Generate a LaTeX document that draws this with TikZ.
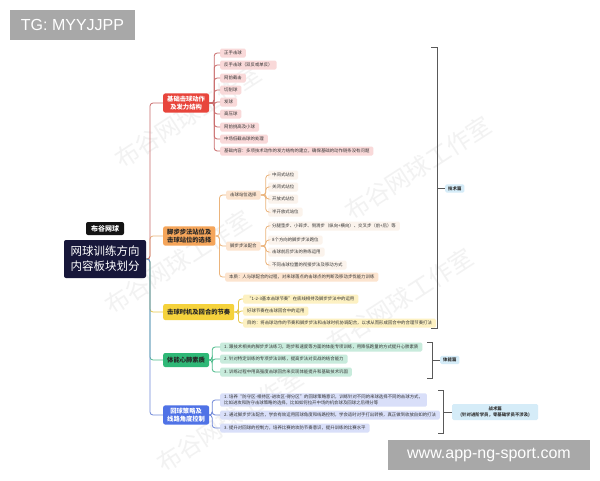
\documentclass[tikz,border=0pt]{standalone}
\usepackage{fontspec}
\setmainfont{Noto Sans CJK SC}
\newfontfamily\helv{Liberation Sans}
\definecolor{cred}{HTML}{E8453C}
\definecolor{cora}{HTML}{F5A55A}
\definecolor{cyel}{HTML}{F5D23C}
\definecolor{cgrn}{HTML}{2FB877}
\definecolor{cblu}{HTML}{4F72E6}
\definecolor{navy}{HTML}{17173A}
\definecolor{kred}{HTML}{F9D9D9}
\definecolor{kora}{HTML}{FCE4CF}
\definecolor{kora2}{HTML}{FBF3EC}
\definecolor{kyel}{HTML}{FDF1C2}
\definecolor{kgrn}{HTML}{C8EBDC}
\definecolor{kblu}{HTML}{D9DFF9}
\definecolor{klbl}{HTML}{D5ECF8}
\definecolor{lred}{HTML}{C96B6B}
\definecolor{lora}{HTML}{EBB47C}
\definecolor{lyel}{HTML}{E6C84A}
\definecolor{lgrn}{HTML}{4DBB8C}
\definecolor{lblu}{HTML}{7088D8}
\definecolor{ovl}{HTML}{A8A8A8}
\newcommand\linkto[4]{\draw[#1] (#2.east) -- ++(#3,0) |- (#4.west);}
\begin{document}
\begin{tikzpicture}[x=1pt,y=-1pt,
  kid/.style={anchor=west, font=\fontsize{4.4}{5.6}\selectfont, text=black!80, rounded corners=1.5pt, inner xsep=4pt, inner ysep=1.8pt, minimum height=9pt, align=left},
  mainbox/.style={anchor=west, font=\fontsize{6.3}{8}\selectfont\bfseries, rounded corners=2pt, inner xsep=4pt, inner ysep=2.5pt, align=center},
  cl/.style={line width=0.8pt, rounded corners=3pt},
  brk/.style={line width=0.8pt, draw=black!65},
  lbl/.style={anchor=west, fill=klbl, rounded corners=1.5pt, font=\fontsize{4.4}{5.6}\selectfont\bfseries, text=black!80, inner xsep=3pt, inner ysep=2pt, align=center},
  wm/.style={rotate=33, text=black!5, font=\fontsize{24}{24}\selectfont},
  ovbox/.style={fill=ovl, text=white, font=\helv\fontsize{16}{16}\selectfont, inner sep=0pt}
]
\useasboundingbox (0,0) rectangle (600,480);
\fill[white] (0,0) rectangle (600,480);

% watermarks
\node[wm] (w1) at (188,116) {布谷网球工作室};
\node[wm] (w2) at (418,168) {布谷网球工作室};
\node[wm] (w3) at (178,262) {布谷网球工作室};
\node[wm] (w4) at (400,300) {布谷网球工作室};
\node[wm] (w5) at (230,420) {布谷网球工作室};

% center
\node[fill=black!92, text=white, rounded corners=2pt, font=\fontsize{7}{8}\selectfont\bfseries, minimum width=38pt, minimum height=13pt, inner sep=1pt] (brand) at (105,228.5) {布谷网球};
\node[fill=navy, text=white, rounded corners=2pt, font=\fontsize{11.5}{15}\selectfont, align=center, minimum width=82pt, minimum height=38pt, inner sep=2pt] (ctr) at (105,259) {网球训练方向\\内容板块划分};
\coordinate (trk) at (150,259);

% main nodes
\node[mainbox, fill=cred, text=white] (red) at (163,103) {基础击球动作\\及发力结构};
\node[mainbox, fill=cora, text=black!85] (ora) at (163,236) {脚步步法站位及\\击球站位的选择};
\node[mainbox, fill=cyel, text=black!85, minimum height=16pt] (yel) at (163,312) {击球时机及回合的节奏};
\node[mainbox, fill=cgrn, text=black!85, minimum height=14pt] (grn) at (163,360) {体能心肺素质};
\node[mainbox, fill=cblu, text=white] (blu) at (163,415) {回球策略及\\线路角度控制};

% trunk connectors
\draw[cl, lora] (ctr.east) -- (trk) |- (ora.west);
\draw[cl, lred] (ctr.east) -- (trk) |- (red.west);
\draw[cl, lyel] (ctr.east) -- (trk) |- (yel.west);
\draw[cl, lgrn] (ctr.east) -- (trk) |- (grn.west);
\draw[cl, lblu] (ctr.east) -- (trk) |- (blu.west);

% red children
\node[kid, fill=kred] (r1) at (220,53) {正手击球};
\node[kid, fill=kred] (r2) at (220,65) {反手击球（双反或单反）};
\node[kid, fill=kred] (r3) at (220,78) {网前截击};
\node[kid, fill=kred] (r4) at (220,90) {切削球};
\node[kid, fill=kred] (r5) at (220,102) {发球};
\node[kid, fill=kred] (r6) at (220,114) {高压球};
\node[kid, fill=kred] (r7) at (220,127) {网前挑高及小球};
\node[kid, fill=kred] (r8) at (220,139) {中场低截击球的处理};
\node[kid, fill=kred] (r9) at (220,151) {基础内容：多项技术动作的发力结构的建立，确保基础的动作链条没有问题};
\foreach \k in {r1,r2,r3,r4,r5,r6,r7,r8,r9} {\linkto{cl,lred}{red}{5}{\k}}

% orange children
\node[kid, fill=kora] (o1) at (226,195) {击球站位选择};
\node[kid, fill=kora] (o2) at (226,246) {脚步步法配合};
\node[kid, fill=kora] (o3) at (225,277) {本质：人与球配合的过程，对来球落点的击球点的判断及移动步伐能力训练};
\foreach \k in {o1,o2,o3} {\linkto{cl,lora}{ora}{4}{\k}}
\node[kid, fill=kora2] (o11) at (268,175) {中间式站位};
\node[kid, fill=kora2] (o12) at (268,187) {关闭式站位};
\node[kid, fill=kora2] (o13) at (268,199) {开放式站位};
\node[kid, fill=kora2] (o14) at (268,212) {半开放式站位};
\foreach \k in {o11,o12,o13,o14} {\linkto{cl,lora}{o1}{5}{\k}}
\node[kid, fill=kora2] (o21) at (268,226) {分腿垫步、小碎步、侧滑步（纵向+横向）、交叉步（前+后）等};
\node[kid, fill=kora2] (o22) at (268,240) {8个方向的脚步步法跑位};
\node[kid, fill=kora2] (o23) at (268,252) {击球前后步法的熟练运用};
\node[kid, fill=kora2] (o24) at (268,265) {不同击球位置的衔接步法及移动方式};
\foreach \k in {o21,o22,o23,o24} {\linkto{cl,lora}{o2}{5}{\k}}

% yellow children
\node[kid, fill=kyel] (y1) at (243,299) {“1-2-3基本击球节奏”在底线相持及脚步步法中的运用};
\node[kid, fill=kyel] (y2) at (243,311) {好球节奏在击球回合中的运用};
\node[kid, fill=kyel] (y3) at (243,323) {目的：将击球动作的节奏和脚步步法和击球时机协调配合，以求从而形成回合中的合理节奏打法};
\foreach \k in {y1,y2,y3} {\linkto{cl,lyel}{yel}{4}{\k}}

% green children
\node[kid, fill=kgrn] (g1) at (220,347) {1. 跟技术相关的脚步步法练习，跑步和速度等方面的体能专项训练，用降低跑量的方式提升心肺素质};
\node[kid, fill=kgrn] (g2) at (220,359) {2. 针对特定训练的专项步法训练，提高步法对实战的结合能力};
\node[kid, fill=kgrn] (g3) at (220,372) {3. 训练过程中用高强度击球回合来实现体能提升和基础技术巩固};
\foreach \k in {g1,g2,g3} {\linkto{cl,lgrn}{grn}{3}{\k}}

% blue children
\node[kid, fill=kblu] (b1) at (220,400) {1. 培养“防守区-相持区-进攻区-得分区”的回球策略意识，训练针对不同的来球选择不同的击球方式，\\比如进攻和防守击球策略的选择，比如如何拉开中场的机会球及回球之后得分等};
\node[kid, fill=kblu] (b2) at (220,415) {2. 通过脚步步法配合，学会有效运用回球角度和线路控制，学会适时对手打出转换，真正做到收放自如的打法};
\node[kid, fill=kblu] (b3) at (220,428) {3. 提升对回球的控制力，培养比赛的攻防节奏意识，提升训练的比赛水平};
\foreach \k in {b1,b2,b3} {\linkto{cl,lblu}{blu}{3}{\k}}

% brackets and labels
\coordinate (t1a) at (431,47);
\coordinate (t1b) at (431,328);
\node[lbl] (tech) at (445,188.5) {技术篇};
\draw[brk] (t1a) -- (437,47) -- (437,328) -- (t1b);
\draw[brk] (437,188.5) -- (tech.west);

\coordinate (t2a) at (427,342);
\coordinate (t2b) at (427,378);
\node[lbl] (phys) at (440,360) {体能篇};
\draw[brk] (t2a) -- (432,342) -- (432,378) -- (t2b);
\draw[brk] (432,360) -- (phys.west);

\coordinate (t3a) at (438,390);
\coordinate (t3b) at (438,433);
\node[lbl, minimum width=86pt, minimum height=16pt] (tact) at (452,412) {战术篇\\(针对进阶学员，零基础学员不涉及)};
\draw[brk] (t3a) -- (443,390) -- (443,433) -- (t3b);
\draw[brk] (443,412) -- (tact.west);

% overlays
\node[ovbox, minimum width=125pt, minimum height=30pt] (tg) at (72.5,25) {TG: MYYJJPP};
\node[ovbox, minimum width=202pt, minimum height=30pt] (url) at (489,455) {www.app-ng-sport.com};
\end{tikzpicture}
\end{document}
